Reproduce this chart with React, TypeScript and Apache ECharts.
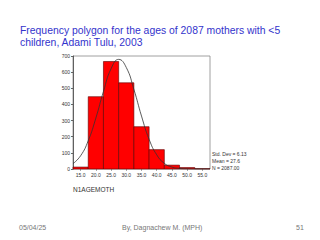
import React, { useEffect, useRef } from "react";
import * as echarts from "echarts";

const binStarts = [12.5, 17.5, 22.5, 27.5, 32.5, 37.5, 42.5, 47.5, 52.5];
const binEnds = [17.5, 22.5, 27.5, 32.5, 37.5, 42.5, 47.5, 52.5, 57.5];
const counts = [12, 448, 666, 534, 262, 120, 24, 9, 2];
const xTickLabels = [15, 20, 25, 30, 35, 40, 45, 50, 55];
const curveX = [12.5, 15, 17.5, 20, 22.5, 25, 27.5, 30, 32.5, 35, 37.5, 40, 42.5, 45, 47.5, 50, 52.5, 55, 57.5];
const curveY = [33, 82, 175, 315, 480, 621, 679, 629, 493, 328, 184, 88, 35, 12, 4, 1, 0, 0, 0];
const statLines = ["Std. Dev = 6.13", "Mean = 27.6", "N = 2087.00"];
const titleText = "Frequency polygon for the ages of 2087 mothers with <5\nchildren, Adami Tulu, 2003";
const xName = "N1AGEMOTH";
const footerLeft = "05/04/25";
const footerMid = "By, Dagnachew M. (MPH)";
const footerRight = "51";

export default function App() {
  const ref = useRef<HTMLDivElement>(null);
  useEffect(() => {
    const chart = echarts.init(ref.current!, null, { renderer: "svg" });
    const font = "Liberation Sans, Arial, sans-serif";
    chart.setOption({
      animation: false,
      backgroundColor: "#ffffff",
      title: {
        text: titleText,
        left: 15,
        top: 19,
        textStyle: { color: "#3333cc", fontSize: 10.4, fontWeight: "normal", fontFamily: font, lineHeight: 12 },
      },
      grid: { left: 73, right: 110, top: 56, bottom: 71, show: true, borderColor: "#888", borderWidth: 0.8 },
      xAxis: {
        type: "value",
        min: 12.5,
        max: 57.5,
        splitLine: { show: false },
        axisLine: { show: false },
        axisTick: { show: true, customValues: xTickLabels, length: 2, inside: false, lineStyle: { color: "#555", width: 0.5 } },
        axisLabel: {
          customValues: xTickLabels,
          formatter: (v: number) => v.toFixed(1),
          fontSize: 5,
          color: "#333",
          fontFamily: font,
          margin: 3,
        },
      },
      yAxis: {
        type: "value",
        min: 0,
        max: 700,
        interval: 100,
        splitLine: { show: false },
        axisLine: { show: true, lineStyle: { color: "#444", width: 0.8 } },
        axisTick: { show: true, length: 2, lineStyle: { color: "#444", width: 0.8 } },
        axisLabel: { fontSize: 5, color: "#333", fontFamily: font, margin: 3 },
      },
      series: [
        {
          type: "custom",
          renderItem: (params: any, api: any) => {
            const s = api.value(0);
            const e = api.value(1);
            const c = api.value(2);
            const p1 = api.coord([s, c]);
            const p2 = api.coord([e, 0]);
            return {
              type: "rect",
              shape: { x: p1[0], y: p1[1], width: p2[0] - p1[0], height: p2[1] - p1[1] },
              style: { fill: "#ff0000", stroke: "#5a0000", lineWidth: 0.6 },
            };
          },
          encode: { x: [0, 1], y: 2 },
          data: binStarts.map((s, i) => [s, binEnds[i], counts[i]]),
          z: 2,
        },
        {
          type: "line",
          smooth: true,
          symbol: "none",
          lineStyle: { color: "#333", width: 0.8 },
          data: curveX.map((x, i) => [x, curveY[i]]),
          z: 3,
        },
      ],
      graphic: [
        ...statLines.map((t, i) => ({
          type: "text",
          left: 212,
          top: [151, 158, 165][i],
          style: { text: t, fontSize: 5, fill: "#333", fontFamily: font },
        })),
        {
          type: "text",
          left: 73,
          top: 186,
          style: { text: xName, fontSize: 6.5, fill: "#333", fontFamily: font },
        },
        { type: "text", left: 19, top: 224, style: { text: footerLeft, fontSize: 7, fill: "#777", fontFamily: font } },
        { type: "text", left: 122, top: 224, style: { text: footerMid, fontSize: 7, fill: "#777", fontFamily: font } },
        { type: "text", left: 296, top: 224, style: { text: footerRight, fontSize: 7, fill: "#777", fontFamily: font } },
      ],
    });
    return () => chart.dispose();
  }, []);
  return <div ref={ref} style={{ width: 320, height: 240, position: "absolute", left: 0, top: 0 }} />;
}
